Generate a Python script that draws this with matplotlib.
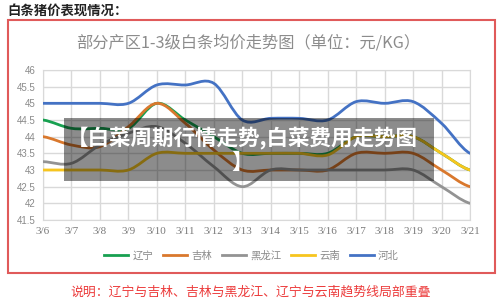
import numpy as np
import matplotlib
matplotlib.use("Agg")
import matplotlib.pyplot as plt
from matplotlib.path import Path
from matplotlib.patches import PathPatch, Rectangle
from matplotlib.lines import Line2D

plt.rcParams['font.family'] = ['Noto Sans CJK SC', 'DejaVu Sans']

# 日期与各省价格（元/KG）
dates = ['3/6', '3/7', '3/8', '3/9', '3/10', '3/11', '3/12', '3/13',
         '3/14', '3/15', '3/16', '3/17', '3/18', '3/19', '3/20', '3/21']
liaoning = [44.5, 44.25, 44.25, 44.25, 45.0, 44.5, 44.0, 43.5,
            43.5, 43.5, 43.5, 44.0, 44.0, 44.0, 43.5, 43.0]
jilin = [44.0, 43.75, 43.7, 44.3, 45.0, 44.4, 43.6, 43.0,
         43.0, 43.0, 43.0, 43.5, 43.5, 43.5, 43.0, 42.5]
heilongjiang = [43.25, 43.2, 43.75, 44.1, 44.3, 43.8, 43.1, 42.5,
                43.0, 43.0, 43.0, 43.0, 43.0, 43.0, 42.5, 42.0]
yunnan = [43.0, 43.0, 43.0, 43.0, 43.5, 43.5, 43.5, 43.5,
          43.5, 43.5, 43.45, 44.0, 44.0, 44.0, 43.5, 43.0]
hebei = [45.0, 45.0, 45.0, 45.0, 45.55, 45.55, 45.6, 44.5,
         44.55, 44.55, 44.5, 45.05, 45.0, 45.05, 44.4, 43.5]

names = ['辽宁', '吉林', '黑龙江', '云南', '河北']
series = [liaoning, jilin, heilongjiang, yunnan, hebei]
colors = ['#17a050', '#d9782d', '#939393', '#f7c51e', '#4472c4']


def smooth_path(ys):
    # 平滑曲线（类似Excel平滑线），用三次贝塞尔段连接各点
    n = len(ys)
    verts = [(0, ys[0])]
    codes = [Path.MOVETO]
    for i in range(n - 1):
        y0 = ys[i - 1] if i > 0 else ys[i]
        y3 = ys[i + 2] if i + 2 < n else ys[i + 1]
        c1 = (i + 1 / 3, ys[i] + (ys[i + 1] - y0) / 6)
        c2 = (i + 2 / 3, ys[i + 1] - (y3 - ys[i]) / 6)
        verts += [c1, c2, (i + 1, ys[i + 1])]
        codes += [Path.CURVE4] * 3
    return Path(verts, codes)


fig = plt.figure(figsize=(5, 3), dpi=100)
fig.patch.set_facecolor('white')

ax = fig.add_axes([0.086, 0.2667, 0.854, 0.5])
for ys, c in zip(series, colors):
    ax.add_patch(PathPatch(smooth_path(ys), facecolor='none', edgecolor=c,
                           lw=2, capstyle='round', joinstyle='round', zorder=3))

ax.set_xlim(0, len(dates) - 1)
ax.set_ylim(41.5, 46)
ax.set_xticks(range(len(dates)))
ax.set_xticklabels(dates, family='Liberation Serif', fontsize=8, color='#7a7a7a')
yt = np.arange(41.5, 46.01, 0.5)
ax.set_yticks(yt)
ax.set_yticklabels(['%g' % v for v in yt], family='Liberation Sans', fontsize=7, color='#8a8a8a')
ax.tick_params(length=0, pad=5)
ax.grid(True, color='#d9d9d9', lw=1)
for s in ax.spines.values():
    s.set_color('#d9d9d9')

handles = [Line2D([], [], color=c, lw=2) for c in colors]
leg = fig.legend(handles, names, loc='center', bbox_to_anchor=(0.503, 0.147), ncol=5,
                 frameon=False, fontsize=7.5, handlelength=2.3, handletextpad=0.4,
                 columnspacing=0.95)
for t in leg.get_texts():
    t.set_color('#8a8a8a')

# 红色外框
fig.add_artist(Rectangle((0.016, 0.09), 0.974, 0.843, transform=fig.transFigure,
                         facecolor='none', edgecolor='#e05a5a', lw=1.5))

fig.text(0.014, 0.963, '白条猪价表现情况：', fontsize=9.6, fontweight='bold',
         color='#222222', va='center')
fig.text(0.496, 0.857, '部分产区1-3级白条均价走势图（单位：元/KG）', fontsize=11.7,
         color='#8c8c8c', ha='center', va='center')
fig.text(0.502, 0.028, '说明：辽宁与吉林、吉林与黑龙江、辽宁与云南趋势线局部重叠',
         fontsize=9.3, color='#ec3b3b', ha='center', va='center')

# 半透明标题遮罩
fig.add_artist(Rectangle((0.128, 0.3967), 0.74, 0.21, transform=fig.transFigure,
                         facecolor='black', alpha=0.45, edgecolor='none'))
fig.text(0.484, 0.502, '【白菜周期行情走势,白菜费用走势图\n】', fontsize=15.5,
         fontweight='bold', color='white', ha='center', va='center',
         multialignment='center', linespacing=1.2)

fig.savefig('out.png', dpi=100)
